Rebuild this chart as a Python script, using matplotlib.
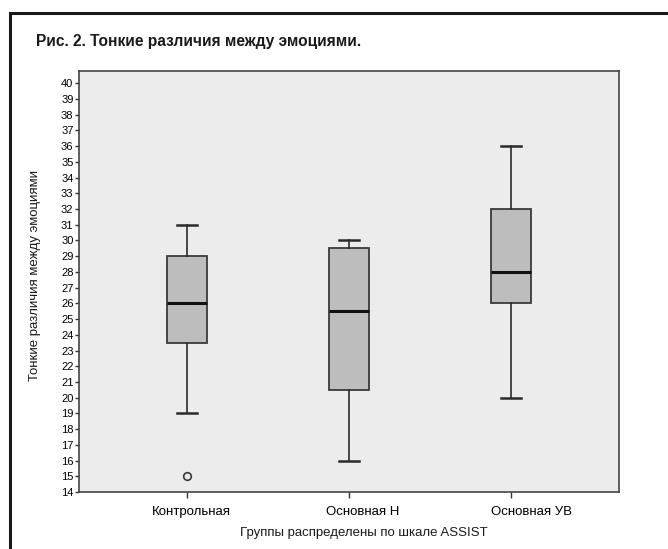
import numpy as np
import matplotlib.pyplot as plt
from matplotlib.patches import Rectangle
from matplotlib.transforms import ScaledTranslation

# groups and box statistics
groups = ['Контрольная', 'Основная Н', 'Основная УВ']
q1 = [23.5, 20.5, 26]
med = [26, 25.5, 28]
q3 = [29, 29.5, 32]
wlo = [19, 16, 20]
whi = [31, 30, 36]
fliers = [[15], [], []]

title = 'Рис. 2. Тонкие различия между эмоциями.'
ylab = 'Тонкие различия между эмоциями'
xlab = 'Группы распределены по шкале ASSIST'
yticks = np.arange(14, 41, 1)

fig = plt.figure(figsize=(6.68, 5.49), dpi=100)
fig.patch.set_facecolor('white')

# frame round the whole figure (runs off right/bottom)
fig.patches.append(Rectangle((10/668, -0.1), 1.2, 0.1 + 1 - 13.5/549,
                             transform=fig.transFigure, fill=False,
                             ec='#1a1a1a', lw=2.2, zorder=0))

fig.text(36/668, 1 - 46/549, title, fontsize=11.2, fontweight='bold',
         family='Liberation Sans', color='#1a1a1a',
         va='baseline', ha='left')

ax = fig.add_axes([79/668, 1 - 492/549, 540/668, 421/549])
ax.set_facecolor('#ececec')

stats = []
for i in range(len(groups)):
    stats.append(dict(label=groups[i], q1=q1[i], med=med[i], q3=q3[i],
                      whislo=wlo[i], whishi=whi[i], fliers=fliers[i]))

ax.bxp(stats, positions=[1, 2, 3], widths=0.253, capwidths=0.123,
       patch_artist=True,
       boxprops=dict(facecolor='#bdbdbd', edgecolor='#3a3a3a', lw=1.3),
       medianprops=dict(color='#111111', lw=2.2),
       whiskerprops=dict(color='#2a2a2a', lw=1.2),
       capprops=dict(color='#2a2a2a', lw=1.8),
       flierprops=dict(marker='o', markersize=5.5, markerfacecolor='none',
                       markeredgecolor='#3a3a3a', markeredgewidth=1.2))

ax.set_xlim(1/3, 3 + 2/3)
ax.set_ylim(14, 40.78)
ax.set_yticks(yticks)
ax.set_yticklabels([str(v) for v in yticks], family='Liberation Sans', fontsize=8)
ax.set_xticks([1, 2, 3])
ax.set_xticklabels(groups, family='Liberation Sans', fontsize=9.5)
ax.tick_params(axis='y', length=3, width=1, pad=1, color='#333333')
ax.tick_params(axis='x', length=4, width=1, pad=6, color='#333333')

# tick labels sit a little right of their ticks
for lab, dx in zip(ax.get_xticklabels(), [3, 10, 15]):
    lab.set_transform(lab.get_transform() + ScaledTranslation(dx/72, 0, fig.dpi_scale_trans))

for s in ax.spines.values():
    s.set_color('#444444')
    s.set_linewidth(1.2)

fig.text(364/668, 1 - 533/549, xlab, family='Liberation Sans', fontsize=9.5,
         ha='center', va='center', color='#1a1a1a')
fig.text(35/668, 1 - 275.5/549, ylab, family='Liberation Sans', fontsize=9.5,
         rotation=90, ha='center', va='center', color='#1a1a1a')

plt.savefig('out.png', dpi=100)
